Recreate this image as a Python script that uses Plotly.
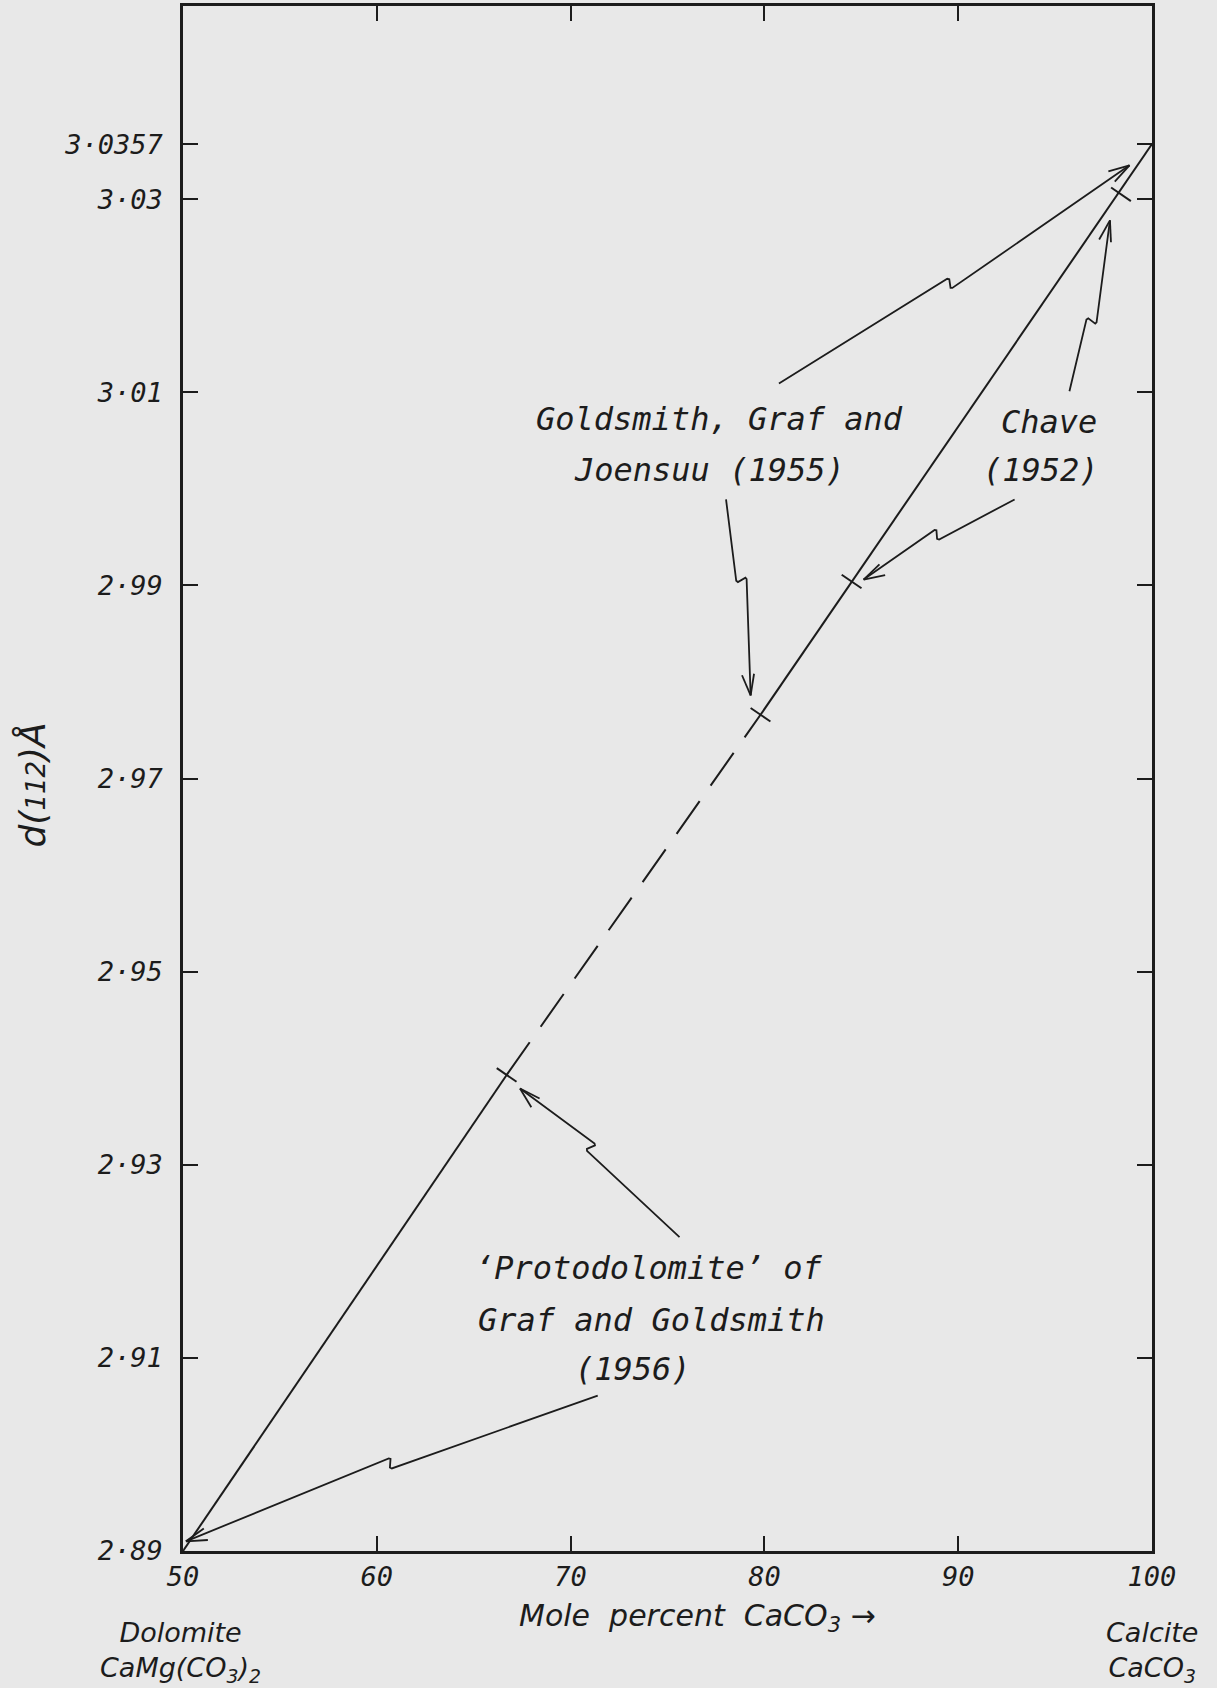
import math
import plotly.graph_objects as go

# ---------------- data ----------------
x_tick_vals = [50, 60, 70, 80, 90, 100]
x_tick_text = ["50", "60", "70", "80", "90", "100"]
y_tick_vals = [2.89, 2.91, 2.93, 2.95, 2.97, 2.99, 3.01, 3.03, 3.0357]
y_tick_text = ["2·89", "2·91", "2·93", "2·95", "2·97", "2·99", "3·01", "3·03", "3·0357"]

# 'Protodolomite' of Graf and Goldsmith (1956)
proto_x = [50.0, 66.7]
proto_d = [2.89, 2.9393]
# unexplored stretch (dashed)
gap_x = [66.7, 79.8]
gap_d = [2.9393, 2.9766]
# Goldsmith, Graf and Joensuu (1955)
gold_x = [79.8, 100.0]
gold_d = [2.9766, 3.0357]
# Chave (1952) limits
chave_x = [84.5, 98.4]
chave_d = [2.9904, 3.0305]

# limit bars across the line
limit_x = [proto_x[1], gold_x[0], chave_x[0], chave_x[1]]
limit_d = [proto_d[1], gold_d[0], chave_d[0], chave_d[1]]

# pointer arrows (tail -> head), in axis units
arrow_tail_x = [80.75, 78.02, 95.74, 92.91, 75.62, 71.40]
arrow_tail_d = [3.0109, 2.9989, 3.0101, 2.9989, 2.9225, 2.9061]
arrow_head_x = [98.84, 79.29, 97.83, 85.12, 67.39, 50.15]
arrow_head_d = [3.0335, 2.9786, 3.0278, 2.9906, 2.9379, 2.8910]

# ---------------- layout geometry / style ----------------
FIG_W, FIG_H = 1217, 1688
M_L, M_R, M_T, M_B = 183, 65, 3, 137
X_RANGE = [50, 100]
Y_RANGE = [2.89, 3.05]
PLOT_W = FIG_W - M_L - M_R
PLOT_H = FIG_H - M_T - M_B

INK = "#1c1c1c"
BG = "#e8e8e8"
LETTER = "DejaVu Sans Mono, DejaVu Sans, monospace"
HAND = "DejaVu Sans, Liberation Sans, sans-serif"

KINK_FRAC = [0.48, 0.415, 0.42, 0.5, 0.58, 0.5]
KINK_SIDE = [1, -1, 1, 1, 1, 1]


def to_px(x, y):
    px = M_L + (x - X_RANGE[0]) / (X_RANGE[1] - X_RANGE[0]) * PLOT_W
    py = M_T + (Y_RANGE[1] - y) / (Y_RANGE[1] - Y_RANGE[0]) * PLOT_H
    return px, py


def to_data(px, py):
    x = X_RANGE[0] + (px - M_L) / PLOT_W * (X_RANGE[1] - X_RANGE[0])
    y = Y_RANGE[1] - (py - M_T) / PLOT_H * (Y_RANGE[1] - Y_RANGE[0])
    return x, y


def paper(px, py):
    return (px - M_L) / PLOT_W, 1 - (py - M_T) / PLOT_H


fig = go.Figure()

# main composition line
fig.add_trace(go.Scatter(x=proto_x, y=proto_d, mode="lines",
                         line=dict(color=INK, width=2), hoverinfo="skip"))
fig.add_trace(go.Scatter(x=gap_x, y=gap_d, mode="lines",
                         line=dict(color=INK, width=2, dash="40px,19px"), hoverinfo="skip"))
fig.add_trace(go.Scatter(x=gold_x, y=gold_d, mode="lines",
                         line=dict(color=INK, width=2), hoverinfo="skip"))

# limit bars perpendicular to the line
a = to_px(proto_x[0], proto_d[0])
b = to_px(gold_x[1], gold_d[1])
L = math.hypot(b[0] - a[0], b[1] - a[1])
ux, uy = (b[0] - a[0]) / L, (b[1] - a[1]) / L
nx, ny = -uy, ux
bx, by = [], []
for x, d in zip(limit_x, limit_d):
    px, py = to_px(x, d)
    for s in (-12, 12):
        xx, yy = to_data(px + nx * s, py + ny * s)
        bx.append(xx)
        by.append(yy)
    bx.append(None)
    by.append(None)
fig.add_trace(go.Scatter(x=bx, y=by, mode="lines", line=dict(color=INK, width=2),
                         hoverinfo="skip"))

# squiggle pointer arrows (hand-drawn "Z" kink half-way)
for tx, td, hx, hd, k, side in zip(arrow_tail_x, arrow_tail_d, arrow_head_x, arrow_head_d,
                                   KINK_FRAC, KINK_SIDE):
    T = to_px(tx, td)
    H = to_px(hx, hd)
    Ln = math.hypot(H[0] - T[0], H[1] - T[1])
    ax_, ay_ = (H[0] - T[0]) / Ln, (H[1] - T[1]) / Ln
    pnx, pny = -ay_ * side, ax_ * side
    P1 = (T[0] + ax_ * Ln * k, T[1] + ay_ * Ln * k)
    P1b = (P1[0] + pnx * 1.5 + ax_ * 1.5, P1[1] + pny * 1.5 + ay_ * 1.5)
    P2a = (P1[0] + pnx * 9.5 - ax_ * 2.0, P1[1] + pny * 9.5 - ay_ * 2.0)
    P2 = (P1[0] + pnx * 10.5 - ax_ * 0.5, P1[1] + pny * 10.5 - ay_ * 0.5)
    pts = [T, P1, P1b, P2a, P2, H]
    xs, ys = zip(*[to_data(*p) for p in pts])
    fig.add_trace(go.Scatter(x=list(xs), y=list(ys), mode="lines",
                             line=dict(color=INK, width=1.8),
                             hoverinfo="skip"))
    # open arrow head
    hx2, hy2 = [], []
    for ang in (math.radians(16), -math.radians(16)):
        c, s = math.cos(ang), math.sin(ang)
        rx = -(ax_ * c - ay_ * s)
        ry = -(ax_ * s + ay_ * c)
        p = to_data(H[0] + rx * 22, H[1] + ry * 22)
        h = to_data(*H)
        hx2 += [h[0], p[0], None]
        hy2 += [h[1], p[1], None]
    fig.add_trace(go.Scatter(x=hx2, y=hy2, mode="lines", line=dict(color=INK, width=1.8),
                             hoverinfo="skip"))

# labels inside the plot
inside_labels = [
    ("Goldsmith, Graf and", 77.7, 3.0072),
    ("Joensuu (1955)", 77.15, 3.0019),
    ("Chave", 94.7, 3.0069),
    ("(1952)", 94.25, 3.0019),
    ("‘Protodolomite’ of", 74.05, 2.9193),
    ("Graf and Goldsmith", 74.15, 2.9139),
    ("(1956)", 73.2, 2.9089),
]
for txt, x, y in inside_labels:
    fig.add_annotation(x=x, y=y, xref="x", yref="y", text=txt, showarrow=False,
                       xanchor="center", yanchor="middle",
                       font=dict(family=LETTER, size=32, color=INK, style="italic"))

# labels outside the plot
outside = [
    ("Mole  percent  CaCO<sub>3</sub> →", 697, 1618, 30),
    ("Dolomite<br>CaMg(CO<sub>3</sub>)<sub>2</sub>", 180, 1652, 27),
    ("Calcite<br>CaCO<sub>3</sub>", 1152, 1652, 27),
]
for txt, px, py, fs in outside:
    xp, yp = paper(px, py)
    fig.add_annotation(x=xp, y=yp, xref="paper", yref="paper", text=txt, showarrow=False,
                       xanchor="center", yanchor="middle", align="center",
                       font=dict(family=HAND, size=fs, color=INK, style="italic"))

xp, yp = paper(32, 784)
fig.add_annotation(x=xp, y=yp, xref="paper", yref="paper",
                   text="d(<span style='font-size:26px'>112</span>)Å", showarrow=False,
                   textangle=-90, xanchor="center", yanchor="middle",
                   font=dict(family=HAND, size=36, color=INK, style="italic"))

axis_common = dict(showline=True, linecolor=INK, linewidth=2.5, mirror="ticks",
                   ticks="inside", ticklen=15, tickwidth=2, tickcolor=INK,
                   showgrid=False, zeroline=False, fixedrange=True)

fig.update_layout(
    width=FIG_W, height=FIG_H,
    margin=dict(l=M_L, r=M_R, t=M_T, b=M_B, pad=0),
    paper_bgcolor=BG, plot_bgcolor=BG,
    showlegend=False,
    xaxis=dict(range=X_RANGE, tickmode="array", tickvals=x_tick_vals, ticktext=x_tick_text,
               tickfont=dict(family=LETTER, size=27, color=INK, style="italic"),
               ticklabelstandoff=0, **axis_common),
    yaxis=dict(range=Y_RANGE, tickmode="array", tickvals=y_tick_vals, ticktext=y_tick_text,
               tickfont=dict(family=LETTER, size=27, color=INK, style="italic"),
               ticklabelstandoff=12, **axis_common),
)

fig.write_html("out.html")
